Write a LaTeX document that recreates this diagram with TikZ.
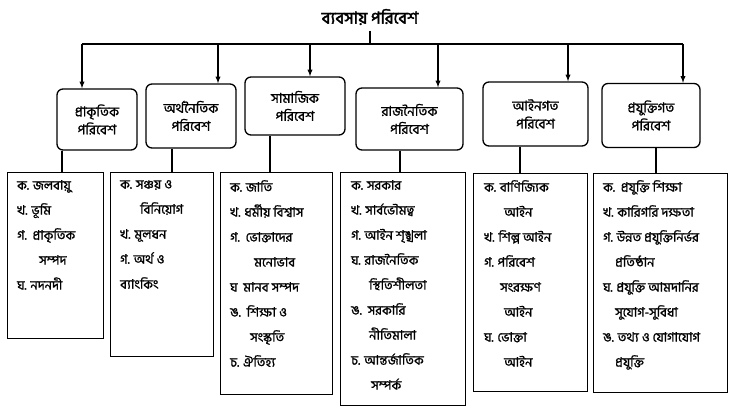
\documentclass[tikz,border=0pt]{standalone}
\usepackage{fontspec}
\newfontfamily\bn[Script=Bengali,FakeBold=1.2]{Hind Siliguri}
\newfontfamily\bnb[Script=Bengali,FakeBold=2.5]{Hind Siliguri}
\begin{document}
\begin{tikzpicture}[x=1pt,y=-1pt,
  top/.style={draw,line width=1.3pt,rounded corners=6pt,align=center,font=\bn\fontsize{13.5}{18}\selectfont,inner sep=0pt},
  low/.style={draw,line width=1.3pt},
  items/.style={anchor=north west,align=left,font=\bn\fontsize{13}{25}\selectfont,inner sep=0pt},
  arr/.style={-latex,line width=1.3pt},
  ln/.style={line width=1.3pt}]
\useasboundingbox (0,0) rectangle (736,412);
\node[font=\bnb\fontsize{16.5}{18}\selectfont] (title) at (370,17) {ব্যবসায় পরিবেশ};
\coordinate (hl) at (82,44); \coordinate (hr) at (683,44);
\draw[ln] (hl) -- (hr);
\draw[ln] (title.south) ++(0,2) -- (370,44);
% top boxes
\node[top,minimum width=80,minimum height=61] (t1) at (97,119.5) {প্রাকৃতিক\\পরিবেশ};
\node[top,minimum width=90,minimum height=64] (t2) at (191,116) {অর্থনৈতিক\\পরিবেশ};
\node[top,minimum width=100,minimum height=58] (t3) at (295,106) {সামাজিক\\পরিবেশ};
\node[top,minimum width=107,minimum height=62] (t4) at (409.5,119) {রাজনৈতিক\\পরিবেশ};
\node[top,minimum width=105,minimum height=64] (t5) at (535.5,114) {আইনগত\\পরিবেশ};
\node[top,minimum width=98,minimum height=64] (t6) at (651,115.5) {প্রযুক্তিগত\\পরিবেশ};
\foreach \x/\t in {82/t1,218/t2,310/t3,438/t4,568/t5,683/t6}{
  \coordinate (a\t) at (\x,44);
  \draw[arr] (a\t) -- (a\t |- \t.north);
}
% bottom boxes
\node[low,minimum width=96,minimum height=166,anchor=north west,inner sep=0] (b1) at (7,172) {};
\node[low,minimum width=103,minimum height=184,anchor=north west,inner sep=0] (b2) at (110,172) {};
\node[low,minimum width=112,minimum height=222,anchor=north west,inner sep=0] (b3) at (220,172) {};
\node[low,minimum width=125,minimum height=233,anchor=north west,inner sep=0] (b4) at (340,172) {};
\node[low,minimum width=114,minimum height=218,anchor=north west,inner sep=0] (b5) at (473,173) {};
\node[low,minimum width=134,minimum height=219,anchor=north west,inner sep=0] (b6) at (593,173) {};
\foreach \x/\t/\b in {62/t1/b1,172/t2/b2,270/t3/b3,400/t4/b4,520/t5/b5,656/t6/b6}{
  \draw[ln] (\x,0 |- \t.south) -- (\x,0 |- \b.north);
}
\node[items] (i1) at (17,180) {ক. জলবায়ু\\খ. ভূমি\\গ.\ \ প্রাকৃতিক\\\hspace{22pt}সম্পদ\\ঘ. নদনদী};
\node[items] (i2) at (120,180) {ক. সঞ্চয় ও\\\hspace{20pt}বিনিয়োগ\\খ. মূলধন\\গ. অর্থ ও\\ব্যাংকিং};
\node[items] (i3) at (230,180) {ক. জাতি\\খ. ধর্মীয় বিশ্বাস\\গ.\ \ ভোক্তাদের\\\hspace{24pt}মনোভাব\\ঘ\ \ মানব সম্পদ\\ঙ.\ \ শিক্ষা ও\\\hspace{20pt}সংস্কৃতি\\চ. ঐতিহ্য};
\node[items] (i4) at (351,180) {ক. সরকার\\খ. সার্বভৌমত্ব\\গ. আইন শৃঙ্খলা\\ঘ. রাজনৈতিক\\\hspace{18pt}স্থিতিশীলতা\\ঙ.\ \ সরকারি\\\hspace{18pt}নীতিমালা\\চ. আন্তর্জাতিক\\\hspace{20pt}সম্পর্ক};
\node[items] (i5) at (484,180) {ক. বাণিজ্যিক\\\hspace{20pt}আইন\\খ. শিল্প আইন\\গ. পরিবেশ\\\hspace{16pt}সংরক্ষণ\\\hspace{20pt}আইন\\ঘ. ভোক্তা\\\hspace{20pt}আইন};
\node[items] (i6) at (603,180) {ক.\ \ প্রযুক্তি শিক্ষা\\খ. কারিগরি দক্ষতা\\গ. উন্নত প্রযুক্তিনির্ভর\\\hspace{12pt}প্রতিষ্ঠান\\ঘ. প্রযুক্তি আমদানির\\\hspace{12pt}সুযোগ-সুবিধা\\ঙ. তথ্য ও যোগাযোগ\\\hspace{12pt}প্রযুক্তি};
\end{tikzpicture}
\end{document}
